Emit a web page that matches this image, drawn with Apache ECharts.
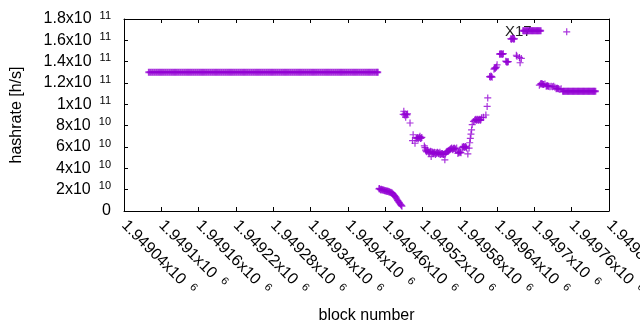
<!DOCTYPE html>
<html>
<head>
<meta charset="utf-8">
<script src="https://cdn.jsdelivr.net/npm/echarts@6/dist/echarts.min.js"></script>
<style>
  html, body { margin: 0; padding: 0; background: #fff; }
  #chart-container { width: 640px; height: 330px; }
</style>
</head>
<body>
<div id="chart-container"></div>
<script>
// block numbers are stored as offsets from this base
const BLOCK_BASE = 1949000;

// long flat run at 1.3x10^11
const plateauOffsets = [
    80, 83, 86, 89, 92, 95, 98, 101, 104, 107, 110, 113, 116, 119, 122, 125, 128, 131, 134, 137,
    140, 143, 146, 149, 152, 155, 158, 161, 164, 167, 170, 173, 176, 179, 182, 185, 188, 191, 194, 197,
    200, 203, 206, 209, 212, 215, 218, 221, 224, 227, 230, 233, 236, 239, 242, 245, 248, 251, 254, 257,
    260, 263, 266, 269, 272, 275, 278, 281, 284, 287, 290, 293, 296, 299, 302, 305, 308, 311, 314, 317,
    320, 323, 326, 329, 332, 335, 338, 341, 344, 347, 350, 353, 356, 359, 362, 365, 368, 371, 374, 377,
    380, 383, 386, 389, 392, 395, 398, 401, 404, 407, 410, 413, 416, 419, 422, 425, 428, 431, 434, 437,
    440, 443, 446, 448
];
const plateauRate = 1.3e11;

// top run near 1.69x10^11
const peakOffsets = [682, 684, 686, 688, 690, 692, 694, 696, 698, 700, 702, 704, 706, 708, 710];
const peakRate = 1.69e11;

// last run near 1.12x10^11
const tailOffsets = [
    746, 748, 750, 752, 754, 756, 758, 760, 762, 764, 766, 768, 770, 772,
    774, 776, 778, 780, 782, 784, 786, 788, 790, 792, 794, 796, 798
];
const tailRate = 1.122e11;

// scattered blocks, rates in units of 10^10 h/s
const pointOffsets = [
    450, 451, 452, 453, 454, 455, 456, 457, 458, 459, 460, 461, 462, 463, 464, 465, 466, 467, 468, 469,
    470, 471, 472, 473, 474, 475, 476, 477, 478, 479, 480, 481, 482, 483, 484, 485, 486, 487,
    489, 490, 491, 492, 493, 494, 495, 496, 500,
    504, 505, 508, 510, 511, 512, 513, 514, 515, 516, 517, 518, 519,
    523, 524, 525, 526, 527, 528, 529, 530, 531, 532, 533, 534, 535, 536, 537, 538, 539, 540,
    541, 542, 543, 544, 545, 546, 547, 548, 549, 550, 551, 552, 553, 554, 555, 556, 557, 558, 559, 560,
    561, 562, 563, 564, 565, 566, 567, 568, 569, 570, 571, 572, 573, 575, 577, 578, 579, 580, 581, 582,
    584, 585, 586, 587, 588, 589, 590, 591, 593, 595, 596, 597, 598, 599, 600, 602,
    604, 605, 606, 607, 608, 609, 610, 611, 612, 613, 614, 615, 618, 622, 624, 625,
    628, 629, 630, 631, 632, 635, 636, 637, 638, 639, 640,
    644, 645, 646, 647, 648, 649, 650, 654, 655, 656, 657, 658,
    662, 663, 664, 665, 666, 667, 668, 671, 672, 676, 677, 679,
    708, 710, 711, 712, 713, 714, 715, 717, 719, 720, 721, 722, 723, 725, 727, 729, 731, 733, 735, 736,
    737, 738, 739, 741, 743, 752
];
const pointRates = [
    2.08, 2.12, 2.02, 1.98, 2.05, 1.96, 2.0, 1.94, 1.98, 1.9, 1.93, 1.88, 1.84, 1.9, 1.82, 1.85, 1.78, 1.8, 1.74, 1.76,
    1.68, 1.72, 1.62, 1.58, 1.52, 1.45, 1.38, 1.3, 1.2, 1.1, 1.0, 0.92, 0.84, 0.76, 0.68, 0.6, 0.52, 0.45,
    9.05, 9.35, 9.0, 9.1, 8.8, 9.05, 9.0, 9.1, 8.25,
    6.6, 7.15, 6.35, 6.85, 6.8, 6.9, 6.75, 6.85, 6.9, 7.0, 6.8, 6.85, 6.9,
    6.1, 5.95, 5.7, 5.6, 5.55, 5.7, 5.6, 5.5, 5.45, 5.55, 5.6, 5.1, 5.55, 5.5, 5.4, 5.45, 5.5, 5.45,
    5.3, 5.45, 5.4, 5.5, 5.45, 5.4, 5.35, 5.5, 5.3, 5.4, 5.35, 5.4, 5.3, 5.3, 5.35, 4.8, 5.35, 5.5, 5.55, 5.6,
    5.6, 5.65, 5.7, 5.75, 5.8, 5.85, 5.9, 5.8, 5.75, 5.85, 5.9, 5.85, 5.8, 5.9, 5.4, 5.5, 5.45, 5.6, 5.5, 5.45,
    6.0, 5.95, 6.05, 6.0, 5.95, 6.05, 6.0, 5.9, 5.35, 5.9, 6.4, 6.8, 7.2, 7.6, 8.1, 8.4,
    8.5, 8.55, 8.6, 8.5, 8.55, 8.6, 8.5, 8.55, 8.6, 8.5, 8.55, 8.75, 8.8, 9.0, 9.8, 10.6,
    12.6, 12.55, 12.65, 12.6, 12.55, 13.3, 13.4, 13.35, 13.45, 13.5, 13.7,
    14.7, 14.75, 14.7, 14.75, 14.7, 14.7, 14.75, 14.05, 14.0, 13.95, 14.0, 14.0,
    16.15, 16.1, 16.15, 16.2, 16.15, 16.1, 16.15, 14.6, 14.5, 14.4, 13.9, 14.3,
    11.8, 11.9, 11.95, 11.9, 11.9, 11.85, 11.85, 11.9, 11.7, 11.75, 11.75, 11.7, 11.7, 11.65, 11.7, 11.65, 11.7, 11.6, 11.45, 11.5,
    11.5, 11.45, 11.45, 11.4, 11.45, 16.8
];
const RATE_UNIT = 1e10;

const X_MIN = 1949040;
const X_MAX = 1949820;
const X_STEP = 60;
const Y_MAX = 1.8e11;
const Y_STEP = 2e10;

const FONT = '"Liberation Sans", Arial, sans-serif';
const PURPLE = '#9400d3';

// flat runs, drawn with a slightly heavier stroke so they fill in like the dense original
const runData = [];
plateauOffsets.forEach(o => runData.push([BLOCK_BASE + o, plateauRate]));
peakOffsets.forEach(o => runData.push([BLOCK_BASE + o, peakRate]));
tailOffsets.forEach(o => runData.push([BLOCK_BASE + o, tailRate]));

const pointData = pointOffsets.map((o, i) => [BLOCK_BASE + o, pointRates[i] * RATE_UNIT]);

// gnuplot style "1.8x10^11" labels
function sciLabel(v, fixedExp) {
    if (v === 0) return '{m|0}';
    const exp = fixedExp !== undefined ? fixedExp : Math.floor(Math.log10(v) + 1e-9);
    const mant = parseFloat((v / Math.pow(10, exp)).toFixed(6));
    return '{m|' + mant + 'x10}{s|' + exp + '}';
}

const richStyle = {
    m: { fontFamily: FONT, fontSize: 16, lineHeight: 18, color: '#000' },
    s: { fontFamily: FONT, fontSize: 11, lineHeight: 11, color: '#000', verticalAlign: 'top', padding: [0, 0, 0, 8] }
};

const tickStyle = { show: true, inside: true, length: 4, lineStyle: { color: '#000', width: 1 } };
const lineStyle = { show: true, onZero: false, lineStyle: { color: '#000', width: 1 } };
const plusSymbol = 'path://M-1,0L1,0M0,-1L0,1';

const chart = echarts.init(document.getElementById('chart-container'));
chart.setOption({
    animation: false,
    grid: { left: 124, right: 31, top: 19, bottom: 119, containLabel: false, outerBoundsMode: 'none' },
    xAxis: [
        {
            type: 'value', position: 'bottom',
            min: X_MIN, max: X_MAX, interval: X_STEP,
            axisLine: lineStyle, axisTick: tickStyle, splitLine: { show: false },
            axisLabel: {
                rotate: -45, margin: 12,
                formatter: v => sciLabel(v, 6),
                rich: richStyle
            },
            name: 'block number', nameLocation: 'middle', nameGap: 97,
            nameTextStyle: { fontFamily: FONT, fontSize: 16, color: '#000' }
        },
        {
            type: 'value', position: 'top',
            min: X_MIN, max: X_MAX, interval: X_STEP,
            axisLine: lineStyle, axisTick: tickStyle, splitLine: { show: false },
            axisLabel: { show: false }
        }
    ],
    yAxis: [
        {
            type: 'value', position: 'left',
            min: 0, max: Y_MAX, interval: Y_STEP,
            axisLine: lineStyle, axisTick: tickStyle, splitLine: { show: false },
            axisLabel: { margin: 13, formatter: v => sciLabel(v), rich: richStyle },
            name: 'hashrate [h/s]', nameLocation: 'middle', nameGap: 99,
            nameTextStyle: { fontFamily: FONT, fontSize: 16, color: '#000' }
        },
        {
            type: 'value', position: 'right',
            min: 0, max: Y_MAX, interval: Y_STEP,
            axisLine: lineStyle, axisTick: tickStyle, splitLine: { show: false },
            axisLabel: { show: false }
        }
    ],
    graphic: [
        {
            type: 'text', left: 505, top: 24, z: 0,
            style: { text: 'X17', font: '15px ' + FONT, fill: '#222' }
        }
    ],
    series: [
        {
            type: 'scatter',
            data: runData,
            symbol: plusSymbol,
            symbolSize: 7,
            itemStyle: { color: 'none', borderColor: PURPLE, borderWidth: 2 },
            emphasis: { disabled: true },
            z: 3
        },
        {
            type: 'scatter',
            data: pointData,
            symbol: plusSymbol,
            symbolSize: 7,
            itemStyle: { color: 'none', borderColor: PURPLE, borderWidth: 1.2 },
            emphasis: { disabled: true },
            z: 3
        }
    ]
});
</script>
</body>
</html>
